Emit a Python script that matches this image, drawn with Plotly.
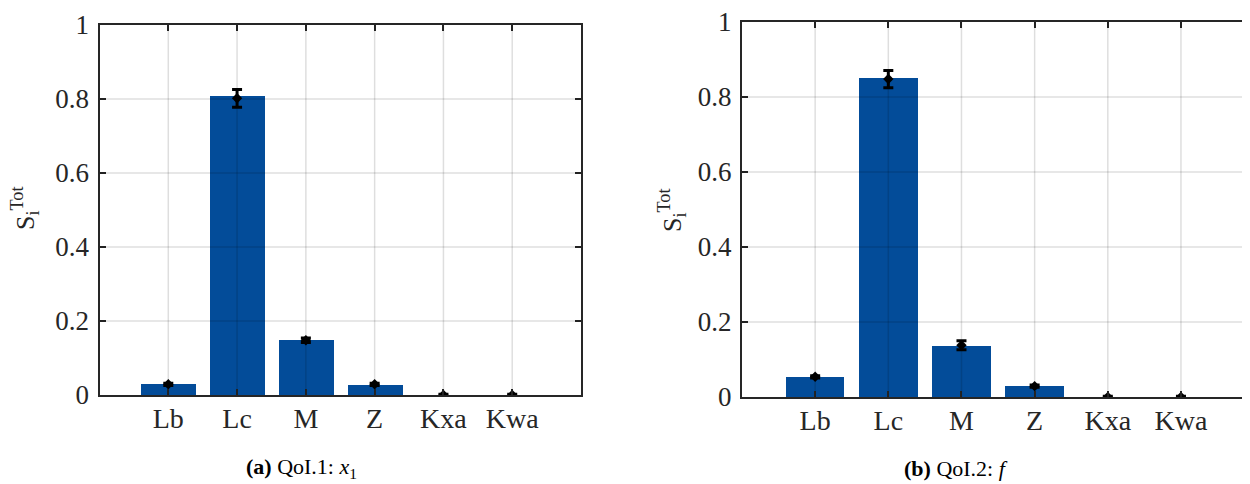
import plotly.graph_objects as go

categories = ["Lb", "Lc", "M", "Z", "Kxa", "Kwa"]
qoi1_values = [0.030, 0.808, 0.148, 0.028, 0.0, 0.0]
qoi1_center = [0.029, 0.802, 0.148, 0.029, 0.0, 0.0]
qoi1_err = [0.003, 0.024, 0.006, 0.003, 0.002, 0.002]
qoi2_values = [0.054, 0.850, 0.137, 0.029, 0.0, 0.0]
qoi2_center = [0.054, 0.848, 0.138, 0.029, 0.0, 0.0]
qoi2_err = [0.003, 0.023, 0.012, 0.003, 0.002, 0.002]
y_ticks = [0, 0.2, 0.4, 0.6, 0.8, 1]
y_ticktext = ["0", "0.2", "0.4", "0.6", "0.8", "1"]

BAR = "#034c99"
AX = "#262626"
GRID = "rgba(0,0,0,0.13)"
FONT = "Liberation Serif"
OFF = 8                      # browser body margin
W, H = 1250 - OFF, 484 - OFF


def fx(px):
    return (px - OFF) / W


def fy(py):
    return 1 - (py - OFF) / H


xpos = list(range(1, len(categories) + 1))

fig = go.Figure()
for i, (vals, ctr, err) in enumerate([(qoi1_values, qoi1_center, qoi1_err),
                                      (qoi2_values, qoi2_center, qoi2_err)]):
    xa = "x" if i == 0 else "x2"
    ya = "y" if i == 0 else "y2"
    fig.add_trace(go.Bar(x=xpos, y=vals, width=0.8, marker=dict(color=BAR, line=dict(width=0)),
                         xaxis=xa, yaxis=ya, showlegend=False))
    fig.add_trace(go.Scatter(x=xpos, y=ctr, mode="markers", xaxis=xa, yaxis=ya,
                             marker=dict(color="black", size=8, symbol="diamond"),
                             error_y=dict(type="data", array=err, color="black", thickness=3, width=5),
                             showlegend=False))
    for xv in xpos:
        fig.add_shape(type="line", xref=xa, yref=ya, x0=xv, x1=xv, y0=0, y1=1,
                      line=dict(color=GRID, width=1.5), layer="above")
    for yv in y_ticks[1:-1]:
        fig.add_shape(type="line", xref=xa, yref=ya, x0=0, x1=7, y0=yv, y1=yv,
                      line=dict(color=GRID, width=1.5), layer="above")

common_x = dict(tickmode="array", tickvals=xpos, ticktext=categories, showgrid=False,
                showline=True, linecolor=AX, linewidth=2, mirror="ticks", ticks="inside",
                ticklen=6, tickwidth=2, tickcolor=AX, zeroline=False, automargin=False,
                ticklabelstandoff=-3, ticklabeloverflow="allow",
                tickfont=dict(family=FONT, size=28, color=AX))
common_y = dict(range=[0, 1], tickmode="array", tickvals=y_ticks, ticktext=y_ticktext,
                showgrid=False, showline=True, linecolor=AX, linewidth=2, mirror="ticks",
                ticks="inside", ticklen=6, tickwidth=2, tickcolor=AX, zeroline=False,
                automargin=False, ticklabeloverflow="allow",
                tickfont=dict(family=FONT, size=27, color=AX), ticklabelstandoff=3)

fig.update_layout(
    template="none",
    width=W, height=H, margin=dict(l=0, r=0, t=0, b=0, pad=0, autoexpand=False),
    plot_bgcolor="white", paper_bgcolor="white",
    bargap=0, showlegend=False,
    xaxis=dict(domain=[fx(99.5), fx(581)], range=[0, 7], anchor="y", **common_x),
    yaxis=dict(domain=[fy(395), fy(25)], anchor="x", **common_y),
    xaxis2=dict(domain=[fx(742), fx(1249)], range=[0, 6.93], anchor="y2", **common_x),
    yaxis2=dict(domain=[fy(397), fy(22)], anchor="x2", **common_y),
)

ytitle = "S<sub>i</sub><sup>Tot</sup>"
fig.add_annotation(text=ytitle, xref="paper", yref="paper", x=fx(25), y=fy(208),
                   xanchor="center", yanchor="middle",
                   textangle=-90, showarrow=False, font=dict(family=FONT, size=26, color=AX))
fig.add_annotation(text=ytitle, xref="paper", yref="paper", x=fx(672), y=fy(210),
                   xanchor="center", yanchor="middle",
                   textangle=-90, showarrow=False, font=dict(family=FONT, size=26, color=AX))

fig.add_annotation(text="<b>(a)</b> QoI.1: <i>x</i><sub>1</sub>", xref="paper", yref="paper",
                   x=fx(301), y=fy(468), xanchor="center", yanchor="middle", showarrow=False,
                   font=dict(family=FONT, size=22, color="black"))
fig.add_annotation(text="<b>(b)</b> QoI.2: <i>f</i>", xref="paper", yref="paper",
                   x=fx(956), y=fy(468), xanchor="center", yanchor="middle", showarrow=False,
                   font=dict(family=FONT, size=22, color="black"))

fig.write_html("out.html")
